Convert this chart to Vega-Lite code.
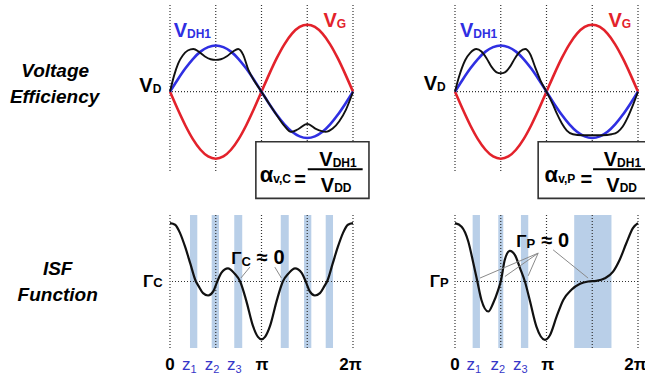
{
  "$schema": "https://vega.github.io/schema/vega-lite/v6.json",
  "autosize": {"type": "none"},
  "padding": {"left": 170, "top": 5, "right": 475, "bottom": 372},
  "background": "white",
  "config": {
    "view": {"stroke": null},
    "axis": {"disable": true},
    "font": "Liberation Sans Narrow, Liberation Sans, Arial, sans-serif",
    "text": {"baseline": "alphabetic"}
  },
  "datasets": {
    "grid": [{"d": 0}, {"d": 90}, {"d": 180}, {"d": 270}, {"d": 360}],
    "zero": [{"y": 0}],
    "sine": [
      {"d": 0, "vg": 0, "vdh1": 0},
      {"d": 15, "vg": -0.259, "vdh1": 0.179},
      {"d": 30, "vg": -0.5, "vdh1": 0.345},
      {"d": 45, "vg": -0.707, "vdh1": 0.488},
      {"d": 60, "vg": -0.866, "vdh1": 0.598},
      {"d": 75, "vg": -0.966, "vdh1": 0.666},
      {"d": 90, "vg": -1, "vdh1": 0.69},
      {"d": 105, "vg": -0.966, "vdh1": 0.666},
      {"d": 120, "vg": -0.866, "vdh1": 0.598},
      {"d": 135, "vg": -0.707, "vdh1": 0.488},
      {"d": 150, "vg": -0.5, "vdh1": 0.345},
      {"d": 165, "vg": -0.259, "vdh1": 0.179},
      {"d": 180, "vg": 0, "vdh1": 0},
      {"d": 195, "vg": 0.259, "vdh1": -0.179},
      {"d": 210, "vg": 0.5, "vdh1": -0.345},
      {"d": 225, "vg": 0.707, "vdh1": -0.488},
      {"d": 240, "vg": 0.866, "vdh1": -0.598},
      {"d": 255, "vg": 0.966, "vdh1": -0.666},
      {"d": 270, "vg": 1, "vdh1": -0.69},
      {"d": 285, "vg": 0.966, "vdh1": -0.666},
      {"d": 300, "vg": 0.866, "vdh1": -0.598},
      {"d": 315, "vg": 0.707, "vdh1": -0.488},
      {"d": 330, "vg": 0.5, "vdh1": -0.345},
      {"d": 345, "vg": 0.259, "vdh1": -0.179},
      {"d": 360, "vg": 0, "vdh1": 0}
    ],
    "drainC": [
      {"d": 0, "y": 0}, {"d": 8, "y": 0.24}, {"d": 16, "y": 0.42}, {"d": 25, "y": 0.54},
      {"d": 35, "y": 0.615}, {"d": 46, "y": 0.637}, {"d": 57, "y": 0.595}, {"d": 68, "y": 0.53},
      {"d": 80, "y": 0.485}, {"d": 90, "y": 0.475}, {"d": 100, "y": 0.485}, {"d": 112, "y": 0.53},
      {"d": 124, "y": 0.6}, {"d": 134, "y": 0.637}, {"d": 144, "y": 0.55}, {"d": 154, "y": 0.33},
      {"d": 166, "y": 0.16}, {"d": 180, "y": 0}, {"d": 195, "y": -0.18}, {"d": 210, "y": -0.35},
      {"d": 225, "y": -0.51}, {"d": 238, "y": -0.6}, {"d": 252, "y": -0.56}, {"d": 270, "y": -0.48},
      {"d": 288, "y": -0.56}, {"d": 306, "y": -0.6}, {"d": 320, "y": -0.55}, {"d": 333, "y": -0.44},
      {"d": 346, "y": -0.27}, {"d": 360, "y": 0}
    ],
    "drainP": [
      {"d": 0, "y": 0}, {"d": 7, "y": 0.2}, {"d": 20, "y": 0.47}, {"d": 30, "y": 0.58},
      {"d": 42, "y": 0.637}, {"d": 52, "y": 0.6}, {"d": 62, "y": 0.5}, {"d": 72, "y": 0.37},
      {"d": 82, "y": 0.29}, {"d": 90, "y": 0.275}, {"d": 98, "y": 0.29}, {"d": 108, "y": 0.37},
      {"d": 118, "y": 0.5}, {"d": 128, "y": 0.6}, {"d": 138, "y": 0.637}, {"d": 148, "y": 0.56},
      {"d": 158, "y": 0.36}, {"d": 168, "y": 0.17}, {"d": 180, "y": 0}, {"d": 192, "y": -0.18},
      {"d": 200, "y": -0.32}, {"d": 210, "y": -0.47}, {"d": 220, "y": -0.58}, {"d": 232, "y": -0.635},
      {"d": 250, "y": -0.65}, {"d": 270, "y": -0.65}, {"d": 290, "y": -0.65}, {"d": 308, "y": -0.635},
      {"d": 320, "y": -0.6}, {"d": 330, "y": -0.52}, {"d": 340, "y": -0.38}, {"d": 350, "y": -0.2},
      {"d": 360, "y": 0}
    ],
    "isfC": [
      {"d": 0, "y": 0.884}, {"d": 10, "y": 0.86}, {"d": 20, "y": 0.73}, {"d": 30, "y": 0.52},
      {"d": 40, "y": 0.27}, {"d": 51, "y": 0}, {"d": 56, "y": -0.066}, {"d": 65, "y": -0.177},
      {"d": 75, "y": -0.212}, {"d": 85, "y": -0.15}, {"d": 93, "y": 0}, {"d": 101, "y": 0.13},
      {"d": 114, "y": 0.2}, {"d": 127, "y": 0.12}, {"d": 138, "y": 0}, {"d": 150, "y": -0.29},
      {"d": 163, "y": -0.67}, {"d": 173, "y": -0.84}, {"d": 180, "y": -0.876}, {"d": 187, "y": -0.84},
      {"d": 197, "y": -0.67}, {"d": 210, "y": -0.29}, {"d": 222, "y": 0}, {"d": 233, "y": 0.12},
      {"d": 246, "y": 0.2}, {"d": 259, "y": 0.13}, {"d": 267, "y": 0}, {"d": 275, "y": -0.15},
      {"d": 285, "y": -0.212}, {"d": 295, "y": -0.177}, {"d": 304, "y": -0.066}, {"d": 309, "y": 0},
      {"d": 320, "y": 0.27}, {"d": 330, "y": 0.52}, {"d": 340, "y": 0.73}, {"d": 350, "y": 0.86},
      {"d": 360, "y": 0.884}
    ],
    "isfP": [
      {"d": 0, "y": 0.884}, {"d": 13, "y": 0.83}, {"d": 26, "y": 0.61}, {"d": 36, "y": 0.28},
      {"d": 44, "y": 0}, {"d": 52, "y": -0.28}, {"d": 65.5, "y": -0.455}, {"d": 75, "y": -0.33},
      {"d": 85, "y": -0.126}, {"d": 90, "y": 0}, {"d": 98, "y": 0.33}, {"d": 108, "y": 0.465},
      {"d": 118, "y": 0.4}, {"d": 128, "y": 0.2}, {"d": 137.5, "y": 0}, {"d": 147, "y": -0.28},
      {"d": 160, "y": -0.68}, {"d": 177, "y": -0.884}, {"d": 187, "y": -0.81}, {"d": 200, "y": -0.53},
      {"d": 213, "y": -0.28}, {"d": 229, "y": -0.126}, {"d": 246, "y": -0.035}, {"d": 262, "y": 0},
      {"d": 278, "y": 0.01}, {"d": 295, "y": 0.05}, {"d": 311, "y": 0.15}, {"d": 324, "y": 0.33},
      {"d": 337, "y": 0.58}, {"d": 350, "y": 0.81}, {"d": 360, "y": 0.884}
    ],
    "bands": [
      {"panel": "C", "d": 39.3, "d2": 53.7}, {"panel": "C", "d": 82, "d2": 96.3},
      {"panel": "C", "d": 126.4, "d2": 142.1}, {"panel": "C", "d": 217.9, "d2": 233.6},
      {"panel": "C", "d": 263.7, "d2": 278}, {"panel": "C", "d": 306.3, "d2": 320.7},
      {"panel": "P", "d": 34.7, "d2": 49.1}, {"panel": "P", "d": 85.1, "d2": 95},
      {"panel": "P", "d": 129.7, "d2": 144.1}, {"panel": "P", "d": 234.5, "d2": 307.8}
    ],
    "boxes": [
      {"panel": "C", "d": 168.9, "d2": 391.4, "y": -0.746, "y2": -1.591},
      {"panel": "P", "d": 163.6, "d2": 386.2, "y": -0.746, "y2": -1.591}
    ],
    "fractions": [
      {"panel": "C", "d": 271, "d2": 379, "y": -1.158},
      {"panel": "P", "d": 271.6, "d2": 379.6, "y": -1.158}
    ],
    "arrows": [
      {"panel": "C", "d": 157.1, "y": 0.218, "d2": 139.4, "y2": 0.052},
      {"panel": "C", "d": 206.2, "y": 0.218, "d2": 219.2, "y2": 0.052},
      {"panel": "P", "d": 163.6, "y": 0.43, "d2": 49.1, "y2": 0.052},
      {"panel": "P", "d": 163.6, "y": 0.43, "d2": 98.2, "y2": 0.076},
      {"panel": "P", "d": 163.6, "y": 0.43, "d2": 144, "y2": 0.086},
      {"panel": "P", "d": 193, "y": 0.48, "d2": 261.8, "y2": 0.052}
    ],
    "notes": [
      {"panel": "TC", "part": "rowname", "series": "ink", "text": "Voltage", "d": -226, "y": 0.219},
      {"panel": "TC", "part": "rowname", "series": "ink", "text": "Efficiency", "d": -227, "y": -0.164},
      {"panel": "TC", "part": "symbol", "series": "ink", "text": "V", "d": -34, "y": 0},
      {"panel": "TC", "part": "index", "series": "ink", "text": "D", "d": -34, "y": -0.015},
      {"panel": "TC", "part": "symbol", "series": "VDH1", "text": "V", "d": 33.4, "y": 0.812},
      {"panel": "TC", "part": "index", "series": "VDH1", "text": "DH1", "d": 33.4, "y": 0.797},
      {"panel": "TC", "part": "symbol", "series": "VG", "text": "V", "d": 328, "y": 0.97},
      {"panel": "TC", "part": "index", "series": "VG", "text": "G", "d": 328, "y": 0.957},
      {"panel": "TC", "part": "alpha", "series": "ink", "text": "α", "d": 203, "y": -1.343},
      {"panel": "TC", "part": "index", "series": "ink", "text": "v,C", "d": 203, "y": -1.358},
      {"panel": "TC", "part": "relation", "series": "ink", "text": "=", "d": 244.6, "y": -1.409},
      {"panel": "TC", "part": "symbol", "series": "ink", "text": "V", "d": 320, "y": -1.104},
      {"panel": "TC", "part": "index", "series": "ink", "text": "DH1", "d": 320, "y": -1.119},
      {"panel": "TC", "part": "symbol", "series": "ink", "text": "V", "d": 323, "y": -1.493},
      {"panel": "TC", "part": "index", "series": "ink", "text": "DD", "d": 323, "y": -1.501},

      {"panel": "TP", "part": "symbol", "series": "ink", "text": "V", "d": -35.4, "y": 0.03},
      {"panel": "TP", "part": "index", "series": "ink", "text": "D", "d": -35.4, "y": 0.015},
      {"panel": "TP", "part": "symbol", "series": "VDH1", "text": "V", "d": 35.9, "y": 0.812},
      {"panel": "TP", "part": "index", "series": "VDH1", "text": "DH1", "d": 35.9, "y": 0.797},
      {"panel": "TP", "part": "symbol", "series": "VG", "text": "V", "d": 328, "y": 0.97},
      {"panel": "TP", "part": "index", "series": "VG", "text": "G", "d": 328, "y": 0.957},
      {"panel": "TP", "part": "alpha", "series": "ink", "text": "α", "d": 202.9, "y": -1.343},
      {"panel": "TP", "part": "index", "series": "ink", "text": "v,P", "d": 202.9, "y": -1.358},
      {"panel": "TP", "part": "relation", "series": "ink", "text": "=", "d": 246.9, "y": -1.409},
      {"panel": "TP", "part": "symbol", "series": "ink", "text": "V", "d": 318.8, "y": -1.104},
      {"panel": "TP", "part": "index", "series": "ink", "text": "DH1", "d": 318.8, "y": -1.119},
      {"panel": "TP", "part": "symbol", "series": "ink", "text": "V", "d": 324, "y": -1.493},
      {"panel": "TP", "part": "index", "series": "ink", "text": "DD", "d": 324, "y": -1.501},

      {"panel": "BC", "part": "rowname", "series": "ink", "text": "ISF", "d": -221, "y": 0.102},
      {"panel": "BC", "part": "rowname", "series": "ink", "text": "Function", "d": -221, "y": -0.292},
      {"panel": "BC", "part": "gamma", "series": "ink", "text": "Γ", "d": -32.8, "y": -0.076},
      {"panel": "BC", "part": "gindex", "series": "ink", "text": "C", "d": -32.8, "y": -0.088},
      {"panel": "BC", "part": "gamma", "series": "ink", "text": "Γ", "d": 140.8, "y": 0.268},
      {"panel": "BC", "part": "gindex", "series": "ink", "text": "C", "d": 140.8, "y": 0.238},
      {"panel": "BC", "part": "relation", "series": "ink", "text": "≈ 0", "d": 170.9, "y": 0.268},
      {"panel": "BC", "part": "tick", "series": "ink", "text": "0", "d": 0, "y": -1.338},
      {"panel": "BC", "part": "tick", "series": "ink", "text": "π", "d": 181, "y": -1.338},
      {"panel": "BC", "part": "tick", "series": "ink", "text": "2π", "d": 355, "y": -1.338},
      {"panel": "BC", "part": "zname", "series": "zero", "text": "z", "d": 40.3, "y": -1.338},
      {"panel": "BC", "part": "zindex", "series": "zero", "text": "1", "d": 40.3, "y": -1.38},
      {"panel": "BC", "part": "zname", "series": "zero", "text": "z", "d": 85.1, "y": -1.338},
      {"panel": "BC", "part": "zindex", "series": "zero", "text": "2", "d": 85.1, "y": -1.38},
      {"panel": "BC", "part": "zname", "series": "zero", "text": "z", "d": 129, "y": -1.338},
      {"panel": "BC", "part": "zindex", "series": "zero", "text": "3", "d": 129, "y": -1.38},

      {"panel": "BP", "part": "gamma", "series": "ink", "text": "Γ", "d": -29.5, "y": -0.076},
      {"panel": "BP", "part": "gindex", "series": "ink", "text": "P", "d": -29.5, "y": -0.088},
      {"panel": "BP", "part": "gamma", "series": "ink", "text": "Γ", "d": 140.8, "y": 0.53},
      {"panel": "BP", "part": "gindex", "series": "ink", "text": "P", "d": 140.8, "y": 0.51},
      {"panel": "BP", "part": "relation", "series": "ink", "text": "≈ 0", "d": 170.3, "y": 0.53},
      {"panel": "BP", "part": "tick", "series": "ink", "text": "0", "d": 0, "y": -1.338},
      {"panel": "BP", "part": "tick", "series": "ink", "text": "π", "d": 182.6, "y": -1.338},
      {"panel": "BP", "part": "tick", "series": "ink", "text": "2π", "d": 355, "y": -1.338},
      {"panel": "BP", "part": "zname", "series": "zero", "text": "z", "d": 39.3, "y": -1.338},
      {"panel": "BP", "part": "zindex", "series": "zero", "text": "1", "d": 39.3, "y": -1.38},
      {"panel": "BP", "part": "zname", "series": "zero", "text": "z", "d": 86.4, "y": -1.338},
      {"panel": "BP", "part": "zindex", "series": "zero", "text": "2", "d": 86.4, "y": -1.38},
      {"panel": "BP", "part": "zname", "series": "zero", "text": "z", "d": 131, "y": -1.338},
      {"panel": "BP", "part": "zindex", "series": "zero", "text": "3", "d": 131, "y": -1.38}
    ]
  },
  "bounds": "flush",
  "columns": 2,
  "spacing": {"row": 42, "column": 102},
  "concat": [
    {
      "width": 183, "height": 168,
      "layer": [
        {"data": {"name": "grid"}, "mark": {"type": "rule", "strokeDash": [1, 2], "color": "#333", "strokeWidth": 1.2},
         "encoding": {"x": {"field": "d", "type": "quantitative", "scale": {"domain": [0, 360], "nice": false, "zero": false}}}},
        {"data": {"name": "zero"}, "mark": {"type": "rule", "strokeDash": [1, 2], "color": "#333", "strokeWidth": 1.2},
         "encoding": {"y": {"field": "y", "type": "quantitative", "scale": {"domain": [-1.213, 1.294], "nice": false, "zero": false}}}},
        {"data": {"name": "sine"}, "mark": {"type": "line", "interpolate": "monotone", "color": "#e3222b", "strokeWidth": 2.6},
         "encoding": {"x": {"field": "d", "type": "quantitative", "scale": {"domain": [0, 360], "nice": false, "zero": false}},
                      "y": {"field": "vg", "type": "quantitative", "scale": {"domain": [-1.213, 1.294], "nice": false, "zero": false}}}},
        {"data": {"name": "sine"}, "mark": {"type": "line", "interpolate": "monotone", "color": "#2f2fe2", "strokeWidth": 2.6},
         "encoding": {"x": {"field": "d", "type": "quantitative", "scale": {"domain": [0, 360], "nice": false, "zero": false}},
                      "y": {"field": "vdh1", "type": "quantitative", "scale": {"domain": [-1.213, 1.294], "nice": false, "zero": false}}}},
        {"data": {"name": "drainC"}, "mark": {"type": "line", "interpolate": "monotone", "color": "#111", "strokeWidth": 1.9},
         "encoding": {"x": {"field": "d", "type": "quantitative", "scale": {"domain": [0, 360], "nice": false, "zero": false}},
                      "y": {"field": "y", "type": "quantitative", "scale": {"domain": [-1.213, 1.294], "nice": false, "zero": false}}}},
        {"data": {"name": "boxes"}, "transform": [{"filter": "datum.panel == 'C'"}],
         "mark": {"type": "rect", "fill": "white", "stroke": "#333", "strokeWidth": 1.6},
         "encoding": {"x": {"field": "d", "type": "quantitative", "scale": {"domain": [0, 360], "nice": false, "zero": false}}, "x2": {"field": "d2"},
                      "y": {"field": "y", "type": "quantitative", "scale": {"domain": [-1.213, 1.294], "nice": false, "zero": false}}, "y2": {"field": "y2"}}},
        {"data": {"name": "fractions"}, "transform": [{"filter": "datum.panel == 'C'"}],
         "mark": {"type": "rule", "color": "#000", "strokeWidth": 2},
         "encoding": {"x": {"field": "d", "type": "quantitative", "scale": {"domain": [0, 360], "nice": false, "zero": false}}, "x2": {"field": "d2"},
                      "y": {"field": "y", "type": "quantitative", "scale": {"domain": [-1.213, 1.294], "nice": false, "zero": false}}}},
        {"data": {"name": "notes"}, "transform": [{"filter": "datum.panel == 'TC' && datum.part == 'rowname'"}],
         "mark": {"type": "text", "align": "center", "fontWeight": "bold", "fontStyle": "italic"},
         "encoding": {"x": {"field": "d", "type": "quantitative", "scale": {"domain": [0, 360], "nice": false, "zero": false}},
                      "y": {"field": "y", "type": "quantitative", "scale": {"domain": [-1.213, 1.294], "nice": false, "zero": false}},
                      "text": {"field": "text"},
                      "size": {"field": "part", "type": "ordinal", "legend": null, "scale": {"type": "ordinal", "domain": ["rowname", "symbol", "alpha", "gamma", "index", "gindex", "relation", "tick", "zname", "zindex"], "range": [19, 20, 22, 17, 12, 13, 20, 17, 17, 11]}},
                      "color": {"field": "series", "type": "nominal", "legend": null, "scale": {"domain": ["ink", "VG", "VDH1", "zero"], "range": ["#000000", "#e3222b", "#2f2fe2", "#3636c8"]}}}},
        {"data": {"name": "notes"}, "transform": [{"filter": "datum.panel == 'TC' && (datum.part == 'symbol' || datum.part == 'alpha' || datum.part == 'gamma')"}],
         "mark": {"type": "text", "align": "right", "fontWeight": "bold"},
         "encoding": {"x": {"field": "d", "type": "quantitative", "scale": {"domain": [0, 360], "nice": false, "zero": false}},
                      "y": {"field": "y", "type": "quantitative", "scale": {"domain": [-1.213, 1.294], "nice": false, "zero": false}},
                      "text": {"field": "text"},
                      "size": {"field": "part", "type": "ordinal", "legend": null, "scale": {"type": "ordinal", "domain": ["rowname", "symbol", "alpha", "gamma", "index", "gindex", "relation", "tick", "zname", "zindex"], "range": [19, 20, 22, 17, 12, 13, 20, 17, 17, 11]}},
                      "color": {"field": "series", "type": "nominal", "legend": null, "scale": {"domain": ["ink", "VG", "VDH1", "zero"], "range": ["#000000", "#e3222b", "#2f2fe2", "#3636c8"]}}}},
        {"data": {"name": "notes"}, "transform": [{"filter": "datum.panel == 'TC' && (datum.part == 'index' || datum.part == 'gindex' || datum.part == 'relation')"}],
         "mark": {"type": "text", "align": "left", "fontWeight": "bold"},
         "encoding": {"x": {"field": "d", "type": "quantitative", "scale": {"domain": [0, 360], "nice": false, "zero": false}},
                      "y": {"field": "y", "type": "quantitative", "scale": {"domain": [-1.213, 1.294], "nice": false, "zero": false}},
                      "text": {"field": "text"},
                      "size": {"field": "part", "type": "ordinal", "legend": null, "scale": {"type": "ordinal", "domain": ["rowname", "symbol", "alpha", "gamma", "index", "gindex", "relation", "tick", "zname", "zindex"], "range": [19, 20, 22, 17, 12, 13, 20, 17, 17, 11]}},
                      "color": {"field": "series", "type": "nominal", "legend": null, "scale": {"domain": ["ink", "VG", "VDH1", "zero"], "range": ["#000000", "#e3222b", "#2f2fe2", "#3636c8"]}}}}
      ]
    },
    {
      "width": 183, "height": 168,
      "layer": [
        {"data": {"name": "grid"}, "mark": {"type": "rule", "strokeDash": [1, 2], "color": "#333", "strokeWidth": 1.2},
         "encoding": {"x": {"field": "d", "type": "quantitative", "scale": {"domain": [0, 360], "nice": false, "zero": false}}}},
        {"data": {"name": "zero"}, "mark": {"type": "rule", "strokeDash": [1, 2], "color": "#333", "strokeWidth": 1.2},
         "encoding": {"y": {"field": "y", "type": "quantitative", "scale": {"domain": [-1.213, 1.294], "nice": false, "zero": false}}}},
        {"data": {"name": "sine"}, "mark": {"type": "line", "interpolate": "monotone", "color": "#e3222b", "strokeWidth": 2.6},
         "encoding": {"x": {"field": "d", "type": "quantitative", "scale": {"domain": [0, 360], "nice": false, "zero": false}},
                      "y": {"field": "vg", "type": "quantitative", "scale": {"domain": [-1.213, 1.294], "nice": false, "zero": false}}}},
        {"data": {"name": "sine"}, "mark": {"type": "line", "interpolate": "monotone", "color": "#2f2fe2", "strokeWidth": 2.6},
         "encoding": {"x": {"field": "d", "type": "quantitative", "scale": {"domain": [0, 360], "nice": false, "zero": false}},
                      "y": {"field": "vdh1", "type": "quantitative", "scale": {"domain": [-1.213, 1.294], "nice": false, "zero": false}}}},
        {"data": {"name": "drainP"}, "mark": {"type": "line", "interpolate": "monotone", "color": "#111", "strokeWidth": 1.9},
         "encoding": {"x": {"field": "d", "type": "quantitative", "scale": {"domain": [0, 360], "nice": false, "zero": false}},
                      "y": {"field": "y", "type": "quantitative", "scale": {"domain": [-1.213, 1.294], "nice": false, "zero": false}}}},
        {"data": {"name": "boxes"}, "transform": [{"filter": "datum.panel == 'P'"}],
         "mark": {"type": "rect", "fill": "white", "stroke": "#333", "strokeWidth": 1.6},
         "encoding": {"x": {"field": "d", "type": "quantitative", "scale": {"domain": [0, 360], "nice": false, "zero": false}}, "x2": {"field": "d2"},
                      "y": {"field": "y", "type": "quantitative", "scale": {"domain": [-1.213, 1.294], "nice": false, "zero": false}}, "y2": {"field": "y2"}}},
        {"data": {"name": "fractions"}, "transform": [{"filter": "datum.panel == 'P'"}],
         "mark": {"type": "rule", "color": "#000", "strokeWidth": 2},
         "encoding": {"x": {"field": "d", "type": "quantitative", "scale": {"domain": [0, 360], "nice": false, "zero": false}}, "x2": {"field": "d2"},
                      "y": {"field": "y", "type": "quantitative", "scale": {"domain": [-1.213, 1.294], "nice": false, "zero": false}}}},
        {"data": {"name": "notes"}, "transform": [{"filter": "datum.panel == 'TP' && (datum.part == 'symbol' || datum.part == 'alpha' || datum.part == 'gamma')"}],
         "mark": {"type": "text", "align": "right", "fontWeight": "bold"},
         "encoding": {"x": {"field": "d", "type": "quantitative", "scale": {"domain": [0, 360], "nice": false, "zero": false}},
                      "y": {"field": "y", "type": "quantitative", "scale": {"domain": [-1.213, 1.294], "nice": false, "zero": false}},
                      "text": {"field": "text"},
                      "size": {"field": "part", "type": "ordinal", "legend": null, "scale": {"type": "ordinal", "domain": ["rowname", "symbol", "alpha", "gamma", "index", "gindex", "relation", "tick", "zname", "zindex"], "range": [19, 20, 22, 17, 12, 13, 20, 17, 17, 11]}},
                      "color": {"field": "series", "type": "nominal", "legend": null, "scale": {"domain": ["ink", "VG", "VDH1", "zero"], "range": ["#000000", "#e3222b", "#2f2fe2", "#3636c8"]}}}},
        {"data": {"name": "notes"}, "transform": [{"filter": "datum.panel == 'TP' && (datum.part == 'index' || datum.part == 'gindex' || datum.part == 'relation')"}],
         "mark": {"type": "text", "align": "left", "fontWeight": "bold"},
         "encoding": {"x": {"field": "d", "type": "quantitative", "scale": {"domain": [0, 360], "nice": false, "zero": false}},
                      "y": {"field": "y", "type": "quantitative", "scale": {"domain": [-1.213, 1.294], "nice": false, "zero": false}},
                      "text": {"field": "text"},
                      "size": {"field": "part", "type": "ordinal", "legend": null, "scale": {"type": "ordinal", "domain": ["rowname", "symbol", "alpha", "gamma", "index", "gindex", "relation", "tick", "zname", "zindex"], "range": [19, 20, 22, 17, 12, 13, 20, 17, 17, 11]}},
                      "color": {"field": "series", "type": "nominal", "legend": null, "scale": {"domain": ["ink", "VG", "VDH1", "zero"], "range": ["#000000", "#e3222b", "#2f2fe2", "#3636c8"]}}}}
      ]
    },
    {
      "width": 183, "height": 133,
      "layer": [
        {"data": {"name": "bands"}, "transform": [{"filter": "datum.panel == 'C'"}],
         "mark": {"type": "rect", "color": "#b9cfe8"},
         "encoding": {"x": {"field": "d", "type": "quantitative", "scale": {"domain": [0, 360], "nice": false, "zero": false}}, "x2": {"field": "d2"}}},
        {"data": {"name": "grid"}, "mark": {"type": "rule", "strokeDash": [1, 2], "color": "#333", "strokeWidth": 1.2},
         "encoding": {"x": {"field": "d", "type": "quantitative", "scale": {"domain": [0, 360], "nice": false, "zero": false}}}},
        {"data": {"name": "zero"}, "mark": {"type": "rule", "strokeDash": [1, 2], "color": "#333", "strokeWidth": 1.2},
         "encoding": {"y": {"field": "y", "type": "quantitative", "scale": {"domain": [-1.008, 1.008], "nice": false, "zero": false}}}},
        {"data": {"name": "isfC"}, "mark": {"type": "line", "interpolate": "monotone", "color": "#111", "strokeWidth": 2.2},
         "encoding": {"x": {"field": "d", "type": "quantitative", "scale": {"domain": [0, 360], "nice": false, "zero": false}},
                      "y": {"field": "y", "type": "quantitative", "scale": {"domain": [-1.008, 1.008], "nice": false, "zero": false}}}},
        {"data": {"name": "arrows"}, "transform": [{"filter": "datum.panel == 'C'"}],
         "mark": {"type": "rule", "color": "#8a8a8a", "strokeWidth": 1},
         "encoding": {"x": {"field": "d", "type": "quantitative", "scale": {"domain": [0, 360], "nice": false, "zero": false}}, "x2": {"field": "d2"},
                      "y": {"field": "y", "type": "quantitative", "scale": {"domain": [-1.008, 1.008], "nice": false, "zero": false}}, "y2": {"field": "y2"}}},
        {"data": {"name": "notes"}, "transform": [{"filter": "datum.panel == 'BC' && datum.part == 'rowname'"}],
         "mark": {"type": "text", "align": "center", "fontWeight": "bold", "fontStyle": "italic"},
         "encoding": {"x": {"field": "d", "type": "quantitative", "scale": {"domain": [0, 360], "nice": false, "zero": false}},
                      "y": {"field": "y", "type": "quantitative", "scale": {"domain": [-1.008, 1.008], "nice": false, "zero": false}},
                      "text": {"field": "text"},
                      "size": {"field": "part", "type": "ordinal", "legend": null, "scale": {"type": "ordinal", "domain": ["rowname", "symbol", "alpha", "gamma", "index", "gindex", "relation", "tick", "zname", "zindex"], "range": [19, 20, 22, 17, 12, 13, 20, 17, 17, 11]}},
                      "color": {"field": "series", "type": "nominal", "legend": null, "scale": {"domain": ["ink", "VG", "VDH1", "zero"], "range": ["#000000", "#e3222b", "#2f2fe2", "#3636c8"]}}}},
        {"data": {"name": "notes"}, "transform": [{"filter": "datum.panel == 'BC' && (datum.part == 'symbol' || datum.part == 'alpha' || datum.part == 'gamma')"}],
         "mark": {"type": "text", "align": "right", "fontWeight": "bold"},
         "encoding": {"x": {"field": "d", "type": "quantitative", "scale": {"domain": [0, 360], "nice": false, "zero": false}},
                      "y": {"field": "y", "type": "quantitative", "scale": {"domain": [-1.008, 1.008], "nice": false, "zero": false}},
                      "text": {"field": "text"},
                      "size": {"field": "part", "type": "ordinal", "legend": null, "scale": {"type": "ordinal", "domain": ["rowname", "symbol", "alpha", "gamma", "index", "gindex", "relation", "tick", "zname", "zindex"], "range": [19, 20, 22, 17, 12, 13, 20, 17, 17, 11]}},
                      "color": {"field": "series", "type": "nominal", "legend": null, "scale": {"domain": ["ink", "VG", "VDH1", "zero"], "range": ["#000000", "#e3222b", "#2f2fe2", "#3636c8"]}}}},
        {"data": {"name": "notes"}, "transform": [{"filter": "datum.panel == 'BC' && (datum.part == 'index' || datum.part == 'gindex' || datum.part == 'relation')"}],
         "mark": {"type": "text", "align": "left", "fontWeight": "bold"},
         "encoding": {"x": {"field": "d", "type": "quantitative", "scale": {"domain": [0, 360], "nice": false, "zero": false}},
                      "y": {"field": "y", "type": "quantitative", "scale": {"domain": [-1.008, 1.008], "nice": false, "zero": false}},
                      "text": {"field": "text"},
                      "size": {"field": "part", "type": "ordinal", "legend": null, "scale": {"type": "ordinal", "domain": ["rowname", "symbol", "alpha", "gamma", "index", "gindex", "relation", "tick", "zname", "zindex"], "range": [19, 20, 22, 17, 12, 13, 20, 17, 17, 11]}},
                      "color": {"field": "series", "type": "nominal", "legend": null, "scale": {"domain": ["ink", "VG", "VDH1", "zero"], "range": ["#000000", "#e3222b", "#2f2fe2", "#3636c8"]}}}},
        {"data": {"name": "notes"}, "transform": [{"filter": "datum.panel == 'BC' && datum.part == 'tick'"}],
         "mark": {"type": "text", "align": "center", "fontWeight": "bold"},
         "encoding": {"x": {"field": "d", "type": "quantitative", "scale": {"domain": [0, 360], "nice": false, "zero": false}},
                      "y": {"field": "y", "type": "quantitative", "scale": {"domain": [-1.008, 1.008], "nice": false, "zero": false}},
                      "text": {"field": "text"},
                      "size": {"field": "part", "type": "ordinal", "legend": null, "scale": {"type": "ordinal", "domain": ["rowname", "symbol", "alpha", "gamma", "index", "gindex", "relation", "tick", "zname", "zindex"], "range": [19, 20, 22, 17, 12, 13, 20, 17, 17, 11]}},
                      "color": {"field": "series", "type": "nominal", "legend": null, "scale": {"domain": ["ink", "VG", "VDH1", "zero"], "range": ["#000000", "#e3222b", "#2f2fe2", "#3636c8"]}}}},
        {"data": {"name": "notes"}, "transform": [{"filter": "datum.panel == 'BC' && datum.part == 'zname'"}],
         "mark": {"type": "text", "align": "right"},
         "encoding": {"x": {"field": "d", "type": "quantitative", "scale": {"domain": [0, 360], "nice": false, "zero": false}},
                      "y": {"field": "y", "type": "quantitative", "scale": {"domain": [-1.008, 1.008], "nice": false, "zero": false}},
                      "text": {"field": "text"},
                      "size": {"field": "part", "type": "ordinal", "legend": null, "scale": {"type": "ordinal", "domain": ["rowname", "symbol", "alpha", "gamma", "index", "gindex", "relation", "tick", "zname", "zindex"], "range": [19, 20, 22, 17, 12, 13, 20, 17, 17, 11]}},
                      "color": {"field": "series", "type": "nominal", "legend": null, "scale": {"domain": ["ink", "VG", "VDH1", "zero"], "range": ["#000000", "#e3222b", "#2f2fe2", "#3636c8"]}}}},
        {"data": {"name": "notes"}, "transform": [{"filter": "datum.panel == 'BC' && datum.part == 'zindex'"}],
         "mark": {"type": "text", "align": "left"},
         "encoding": {"x": {"field": "d", "type": "quantitative", "scale": {"domain": [0, 360], "nice": false, "zero": false}},
                      "y": {"field": "y", "type": "quantitative", "scale": {"domain": [-1.008, 1.008], "nice": false, "zero": false}},
                      "text": {"field": "text"},
                      "size": {"field": "part", "type": "ordinal", "legend": null, "scale": {"type": "ordinal", "domain": ["rowname", "symbol", "alpha", "gamma", "index", "gindex", "relation", "tick", "zname", "zindex"], "range": [19, 20, 22, 17, 12, 13, 20, 17, 17, 11]}},
                      "color": {"field": "series", "type": "nominal", "legend": null, "scale": {"domain": ["ink", "VG", "VDH1", "zero"], "range": ["#000000", "#e3222b", "#2f2fe2", "#3636c8"]}}}}
      ]
    },
    {
      "width": 183, "height": 133,
      "layer": [
        {"data": {"name": "bands"}, "transform": [{"filter": "datum.panel == 'P'"}],
         "mark": {"type": "rect", "color": "#b9cfe8"},
         "encoding": {"x": {"field": "d", "type": "quantitative", "scale": {"domain": [0, 360], "nice": false, "zero": false}}, "x2": {"field": "d2"}}},
        {"data": {"name": "grid"}, "mark": {"type": "rule", "strokeDash": [1, 2], "color": "#333", "strokeWidth": 1.2},
         "encoding": {"x": {"field": "d", "type": "quantitative", "scale": {"domain": [0, 360], "nice": false, "zero": false}}}},
        {"data": {"name": "zero"}, "mark": {"type": "rule", "strokeDash": [1, 2], "color": "#333", "strokeWidth": 1.2},
         "encoding": {"y": {"field": "y", "type": "quantitative", "scale": {"domain": [-1.008, 1.008], "nice": false, "zero": false}}}},
        {"data": {"name": "isfP"}, "mark": {"type": "line", "interpolate": "monotone", "color": "#111", "strokeWidth": 2.2},
         "encoding": {"x": {"field": "d", "type": "quantitative", "scale": {"domain": [0, 360], "nice": false, "zero": false}},
                      "y": {"field": "y", "type": "quantitative", "scale": {"domain": [-1.008, 1.008], "nice": false, "zero": false}}}},
        {"data": {"name": "arrows"}, "transform": [{"filter": "datum.panel == 'P'"}],
         "mark": {"type": "rule", "color": "#8a8a8a", "strokeWidth": 1},
         "encoding": {"x": {"field": "d", "type": "quantitative", "scale": {"domain": [0, 360], "nice": false, "zero": false}}, "x2": {"field": "d2"},
                      "y": {"field": "y", "type": "quantitative", "scale": {"domain": [-1.008, 1.008], "nice": false, "zero": false}}, "y2": {"field": "y2"}}},
        {"data": {"name": "notes"}, "transform": [{"filter": "datum.panel == 'BP' && (datum.part == 'symbol' || datum.part == 'alpha' || datum.part == 'gamma')"}],
         "mark": {"type": "text", "align": "right", "fontWeight": "bold"},
         "encoding": {"x": {"field": "d", "type": "quantitative", "scale": {"domain": [0, 360], "nice": false, "zero": false}},
                      "y": {"field": "y", "type": "quantitative", "scale": {"domain": [-1.008, 1.008], "nice": false, "zero": false}},
                      "text": {"field": "text"},
                      "size": {"field": "part", "type": "ordinal", "legend": null, "scale": {"type": "ordinal", "domain": ["rowname", "symbol", "alpha", "gamma", "index", "gindex", "relation", "tick", "zname", "zindex"], "range": [19, 20, 22, 17, 12, 13, 20, 17, 17, 11]}},
                      "color": {"field": "series", "type": "nominal", "legend": null, "scale": {"domain": ["ink", "VG", "VDH1", "zero"], "range": ["#000000", "#e3222b", "#2f2fe2", "#3636c8"]}}}},
        {"data": {"name": "notes"}, "transform": [{"filter": "datum.panel == 'BP' && (datum.part == 'index' || datum.part == 'gindex' || datum.part == 'relation')"}],
         "mark": {"type": "text", "align": "left", "fontWeight": "bold"},
         "encoding": {"x": {"field": "d", "type": "quantitative", "scale": {"domain": [0, 360], "nice": false, "zero": false}},
                      "y": {"field": "y", "type": "quantitative", "scale": {"domain": [-1.008, 1.008], "nice": false, "zero": false}},
                      "text": {"field": "text"},
                      "size": {"field": "part", "type": "ordinal", "legend": null, "scale": {"type": "ordinal", "domain": ["rowname", "symbol", "alpha", "gamma", "index", "gindex", "relation", "tick", "zname", "zindex"], "range": [19, 20, 22, 17, 12, 13, 20, 17, 17, 11]}},
                      "color": {"field": "series", "type": "nominal", "legend": null, "scale": {"domain": ["ink", "VG", "VDH1", "zero"], "range": ["#000000", "#e3222b", "#2f2fe2", "#3636c8"]}}}},
        {"data": {"name": "notes"}, "transform": [{"filter": "datum.panel == 'BP' && datum.part == 'tick'"}],
         "mark": {"type": "text", "align": "center", "fontWeight": "bold"},
         "encoding": {"x": {"field": "d", "type": "quantitative", "scale": {"domain": [0, 360], "nice": false, "zero": false}},
                      "y": {"field": "y", "type": "quantitative", "scale": {"domain": [-1.008, 1.008], "nice": false, "zero": false}},
                      "text": {"field": "text"},
                      "size": {"field": "part", "type": "ordinal", "legend": null, "scale": {"type": "ordinal", "domain": ["rowname", "symbol", "alpha", "gamma", "index", "gindex", "relation", "tick", "zname", "zindex"], "range": [19, 20, 22, 17, 12, 13, 20, 17, 17, 11]}},
                      "color": {"field": "series", "type": "nominal", "legend": null, "scale": {"domain": ["ink", "VG", "VDH1", "zero"], "range": ["#000000", "#e3222b", "#2f2fe2", "#3636c8"]}}}},
        {"data": {"name": "notes"}, "transform": [{"filter": "datum.panel == 'BP' && datum.part == 'zname'"}],
         "mark": {"type": "text", "align": "right"},
         "encoding": {"x": {"field": "d", "type": "quantitative", "scale": {"domain": [0, 360], "nice": false, "zero": false}},
                      "y": {"field": "y", "type": "quantitative", "scale": {"domain": [-1.008, 1.008], "nice": false, "zero": false}},
                      "text": {"field": "text"},
                      "size": {"field": "part", "type": "ordinal", "legend": null, "scale": {"type": "ordinal", "domain": ["rowname", "symbol", "alpha", "gamma", "index", "gindex", "relation", "tick", "zname", "zindex"], "range": [19, 20, 22, 17, 12, 13, 20, 17, 17, 11]}},
                      "color": {"field": "series", "type": "nominal", "legend": null, "scale": {"domain": ["ink", "VG", "VDH1", "zero"], "range": ["#000000", "#e3222b", "#2f2fe2", "#3636c8"]}}}},
        {"data": {"name": "notes"}, "transform": [{"filter": "datum.panel == 'BP' && datum.part == 'zindex'"}],
         "mark": {"type": "text", "align": "left"},
         "encoding": {"x": {"field": "d", "type": "quantitative", "scale": {"domain": [0, 360], "nice": false, "zero": false}},
                      "y": {"field": "y", "type": "quantitative", "scale": {"domain": [-1.008, 1.008], "nice": false, "zero": false}},
                      "text": {"field": "text"},
                      "size": {"field": "part", "type": "ordinal", "legend": null, "scale": {"type": "ordinal", "domain": ["rowname", "symbol", "alpha", "gamma", "index", "gindex", "relation", "tick", "zname", "zindex"], "range": [19, 20, 22, 17, 12, 13, 20, 17, 17, 11]}},
                      "color": {"field": "series", "type": "nominal", "legend": null, "scale": {"domain": ["ink", "VG", "VDH1", "zero"], "range": ["#000000", "#e3222b", "#2f2fe2", "#3636c8"]}}}}
      ]
    }
  ]
}
